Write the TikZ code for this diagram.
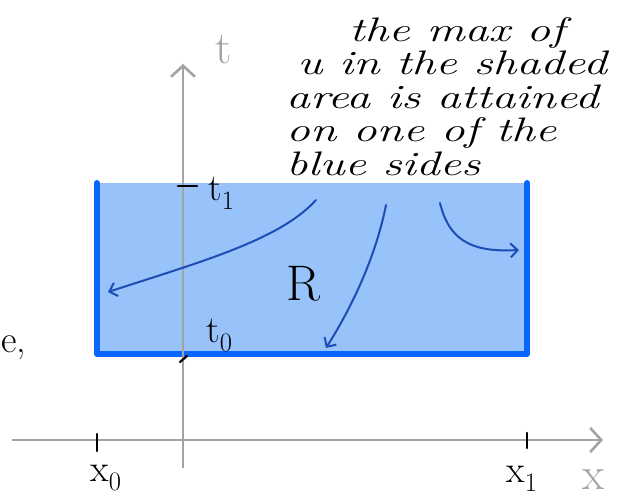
\documentclass[tikz,border=0pt]{standalone}
\usepackage{fontspec}
\usepackage{graphicx}
\usepackage{tikz}
\usetikzlibrary{arrows.meta}
\definecolor{shadeA}{HTML}{97C3FA}
\definecolor{sideA}{HTML}{0866FF}
\definecolor{flowA}{HTML}{1D4DB5}
\definecolor{axisA}{HTML}{A3A3A3}

\begin{document}
\begin{tikzpicture}[
    x=1pt, y=1pt,
    axis/.style={draw=axisA, line width=2.6pt,
        -{Straight Barb[length=11pt, width=24pt, line width=2.6pt]}},
    side/.style={draw=sideA, line width=6pt, line cap=round, line join=round},
    tick/.style={draw=black, line width=2.2pt, line cap=round},
    flow/.style={draw=flowA, line width=2pt, line cap=round,
        -{Straight Barb[length=7pt, width=14pt, line width=2pt]}},
    lbl/.style={font=\fontsize{38}{42}\selectfont, text=black},
    glbl/.style={font=\fontsize{46}{50}\selectfont, text=axisA},
    note/.style={font=\fontsize{34}{33}\selectfont\itshape, text=black,
        inner sep=0pt},
]
\useasboundingbox[fill=white] (0,0) rectangle (619,498);

% Shaded area and the blue sides
\fill[shadeA] (97,143) rectangle (527,315);
\draw[side] (97,315) -- (97,144) -- (527,144) -- (527,315);

% Axes
\coordinate (xstart) at (12,58);
\coordinate (xend) at (603,58);
\coordinate (tstart) at (183,30);
\coordinate (tend) at (183,434);
\draw[axis] (xstart) -- (xend);
\draw[axis] (tstart) -- (tend);
\node[glbl] (xlab) at (594,18) {x};
\node[glbl] (tlab) at (224,448) {t};

% Ticks and their labels
\draw[tick] (178,312) -- (197,312);
\node[lbl, anchor=west] (tone) at (205,305) {t\textsubscript{1}};
\draw[tick] (180,136) -- (187,142);
\node[lbl, anchor=west] (tzero) at (203,162) {t\textsubscript{0}};
\draw[tick] (97,64) -- (97,47);
\node[lbl] (xzero) at (106,20) {x\textsubscript{0}};
\draw[tick] (527,65) -- (527,50);
\node[lbl] (xone) at (522,19) {x\textsubscript{1}};

% Region label and cut-off text at the left
\node[font=\fontsize{50}{54}\selectfont] (reg) at (303,214) {R};
\node[lbl, anchor=west, inner sep=0pt] (cut) at (1,150) {e,};

% Note
\node[note, anchor=north west] (remark) at (286,481)
    {\scalebox{1.4}[1]{\begin{tabular}{@{}l@{}}
     \hspace*{45pt}the max of\\
     \hspace*{8pt}u in the shaded\\
     area is attained\\
     on one of the\\
     blue sides
     \end{tabular}}};

% Arrows from the note to the sides
\coordinate (fromL) at (316,298);
\coordinate (fromB) at (386,293);
\coordinate (fromR) at (440,295);
\coordinate (toL) at (108,206);
\coordinate (toB) at (326,150);
\coordinate (toR) at (519,248);
\draw[flow] (fromL) .. controls (280,258) and (200,236) .. (toL);
\draw[flow] (fromB) .. controls (375,238) and (350,188) .. (toB);
\draw[flow] (fromR) .. controls (450,253) and (478,246) .. (toR);

\end{tikzpicture}
\end{document}
